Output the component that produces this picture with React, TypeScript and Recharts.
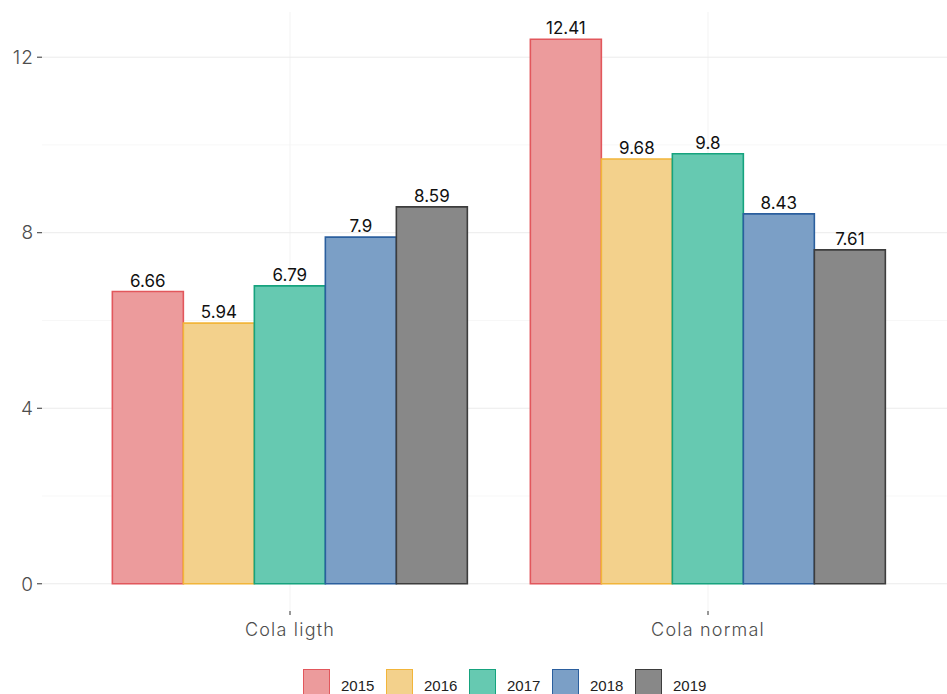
import React from "react";
import { BarChart, Bar, XAxis, YAxis, CartesianGrid, LabelList } from "recharts";

const categories = ["Cola ligth", "Cola normal"];
const years = ["2015", "2016", "2017", "2018", "2019"];
const s2015 = [6.66, 12.41];
const s2016 = [5.94, 9.68];
const s2017 = [6.79, 9.8];
const s2018 = [7.9, 8.43];
const s2019 = [8.59, 7.61];
const seriesValues = [s2015, s2016, s2017, s2018, s2019];
const majorTicks = [0, 4, 8, 12];
const minorTicks = [2, 6, 10];

const fills = ["#ec9b9c", "#f3d18c", "#66c9b1", "#7b9fc6", "#888888"];
const strokes = ["#e2575c", "#f2b53a", "#16a37e", "#2b5f9e", "#3d3d3d"];

const data = categories.map((c, i) => {
  const row: Record<string, string | number> = { name: c };
  years.forEach((y, j) => {
    row[y] = seriesValues[j][i];
  });
  return row;
});

const AXIS_FONT = "Inter, 'Open Sans', sans-serif";
const LABEL_FONT = "Inter, 'Open Sans', sans-serif";

export default function App() {
  return (
    <div style={{ position: "absolute", left: 0, top: 0, width: 947, height: 694, background: "#fff" }}>
      <BarChart
        width={947}
        height={694}
        data={data}
        margin={{ top: 12, right: 0, bottom: 0, left: 0 }}
        barCategoryGap="7.5%"
        barGap={0}
      >
        <CartesianGrid
          stroke="#f5f5f5"
          strokeWidth={0.8}
          horizontalValues={minorTicks}
          vertical={false}
        />
        <CartesianGrid
          stroke="#f3f3f3"
          strokeWidth={1}
          horizontal={false}
          verticalValues={categories}
        />
        <CartesianGrid
          stroke="#ebebeb"
          strokeWidth={1}
          horizontalValues={majorTicks}
          vertical={false}
        />
        <XAxis
          dataKey="name"
          padding={{ left: 39, right: 30 }}
          height={83}
          axisLine={false}
          tickLine={{ stroke: "#333" }}
          tickSize={4}
          tickMargin={8}
          tick={{ fill: "#4d4d4d", fontSize: 18, fontFamily: AXIS_FONT, fontWeight: 300, letterSpacing: 1.2 }}
        />
        <YAxis
          width={42}
          domain={[-0.62, 13.03]}
          ticks={majorTicks}
          allowDataOverflow
          axisLine={false}
          tickLine={{ stroke: "#333" }}
          tickSize={5}
          tickMargin={3}
          tick={{ fill: "#4d4d4d", fontSize: 19, fontFamily: AXIS_FONT, fontWeight: 300, letterSpacing: 1 }}
        />
        {years.map((y, j) => (
          <Bar
            key={y}
            dataKey={y}
            fill={fills[j]}
            stroke={strokes[j]}
            strokeWidth={1.6}
            isAnimationActive={false}
          >
            <LabelList
              dataKey={y}
              position="top"
              offset={5}
              fill="#111"
              fontSize={17}
              fontFamily={LABEL_FONT}
            />
          </Bar>
        ))}
      </BarChart>
      <div
        style={{
          position: "absolute",
          left: 303,
          top: 669,
          display: "flex",
          fontFamily: "'Liberation Sans', Arial, sans-serif",
          fontSize: 15,
          color: "#222",
        }}
      >
        {years.map((y, j) => (
          <div key={y} style={{ display: "flex", alignItems: "flex-start", width: 83 }}>
            <div
              style={{
                width: 27,
                height: 26,
                background: fills[j],
                border: `1.5px solid ${strokes[j]}`,
                boxSizing: "border-box",
              }}
            />
            <span style={{ marginLeft: 11, marginTop: 8 }}>{y}</span>
          </div>
        ))}
      </div>
    </div>
  );
}
